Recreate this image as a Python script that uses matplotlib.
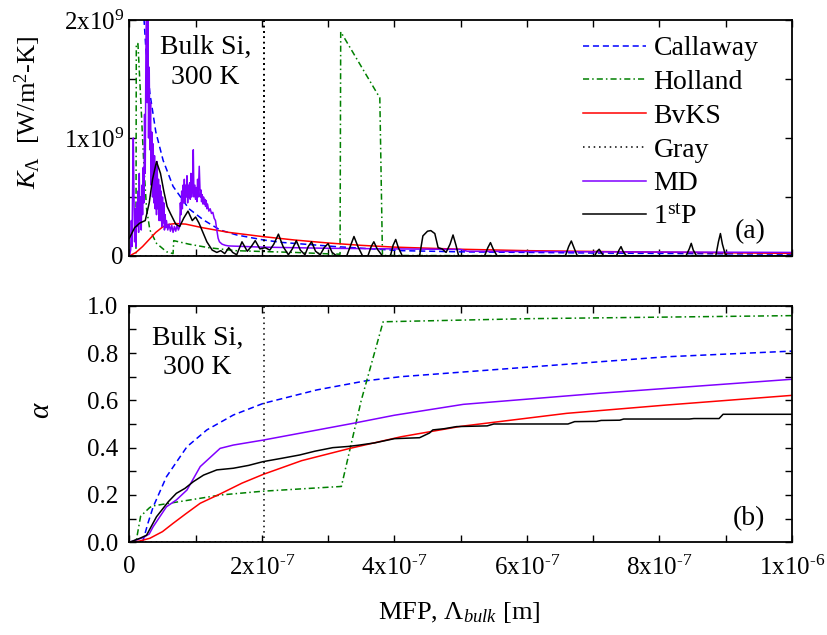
import matplotlib
matplotlib.use("Agg")
import matplotlib.pyplot as plt
import numpy as np

plt.rcParams['font.family'] = ['Liberation Serif', 'DejaVu Serif']
plt.rcParams['mathtext.fontset'] = 'custom'
plt.rcParams['mathtext.rm'] = 'Liberation Serif'
plt.rcParams['mathtext.it'] = 'Liberation Serif:italic'
plt.rcParams['mathtext.bf'] = 'Liberation Serif:bold'

# ---------------- data (MFP in units of 1e-7 m, K_Lambda in units of 1e9) ----------------
MFP_UNIT = 1e-7
K_UNIT = 1e9

callaway_mfp = [0.17, 0.20, 0.25, 0.31, 0.40, 0.51, 0.66, 0.90, 1.12, 1.37, 1.62, 2.02, 2.30, 3.10, 4.10, 5.00, 7.00, 10.0]
callaway_K = [3.0, 2.2, 1.75, 1.38, 1.05, 0.81, 0.59, 0.40, 0.305, 0.22, 0.178, 0.136, 0.115, 0.08, 0.045, 0.035, 0.025, 0.015]

holland_mfp = [0, 0.10, 0.105, 0.13, 0.17, 0.22, 0.26, 0.31, 0.41, 0.56, 0.66, 0.67, 0.9, 1.2, 1.6, 2.0, 2.5, 3.0, 3.18, 3.19, 3.78, 3.82, 5.0, 10.0]
holland_K = [0, 0, 1.8, 1.8, 1.35, 0.76, 0.4, 0.22, 0.107, 0.036, 0.02, 0.13, 0.1, 0.07, 0.045, 0.038, 0.03, 0.018, 0.015, 1.9, 1.34, 0.004, 0.003, 0.002]

bvks_mfp = [0, 0.1, 0.2, 0.3, 0.4, 0.5, 0.6, 0.7, 0.85, 1.1, 1.5, 2.0, 2.5, 3.0, 3.5, 4.0, 5.0, 6.0, 7.5, 10.0]
bvks_K = [0, 0.03, 0.08, 0.14, 0.2, 0.245, 0.268, 0.275, 0.27, 0.24, 0.2, 0.165, 0.135, 0.11, 0.09, 0.075, 0.057, 0.045, 0.035, 0.022]

gray_mfp = [0, 2.03, 2.03, 2.03, 10.0]
gray_K = [0, 0, 5.0, 0, 0]

md_points = [(0.00,0.0),(0.02,0.05),(0.03,0.3),(0.04,0.08),(0.05,0.6),(0.06,1.0),(0.07,0.5),(0.08,0.12),
             (0.09,0.4),(0.10,0.08),(0.11,0.45),(0.12,0.25),(0.13,0.55),(0.14,0.2),(0.15,0.7),(0.16,0.3),
             (0.17,0.5),(0.18,0.22),(0.19,0.6),(0.20,0.35),(0.21,0.75),(0.22,0.45),(0.23,1.2),(0.24,0.7),
             (0.25,1.7),(0.26,2.3),(0.27,1.3),(0.28,2.3),(0.29,1.0),(0.30,1.6),(0.31,0.9),(0.32,1.3),
             (0.33,0.6),(0.34,1.05),(0.35,0.5),(0.36,0.95),(0.37,0.45),(0.38,0.85),(0.39,0.4),(0.40,0.75),
             (0.41,0.35),(0.42,0.8),(0.43,0.4),(0.44,0.65),(0.45,0.3),(0.46,0.6),(0.47,0.3),(0.48,0.55),
             (0.49,0.25),(0.50,0.5),(0.51,0.28),(0.52,0.45),(0.53,0.22),(0.54,0.35),(0.55,0.24),(0.56,0.3),
             (0.58,0.22),(0.60,0.27),(0.62,0.21),(0.64,0.26),(0.66,0.2),(0.68,0.25),(0.70,0.21),(0.72,0.26),
             (0.74,0.22),(0.76,0.25),(0.77,0.45),(0.78,0.35),(0.79,0.55),(0.80,0.4),(0.81,0.6),(0.82,0.45),
             (0.83,0.65),(0.84,0.45),(0.85,0.6),(0.86,0.5),(0.87,0.68),(0.88,0.45),(0.89,0.6),(0.90,0.5),
             (0.91,0.62),(0.92,0.48),(0.93,0.7),(0.94,0.5),(0.955,0.6),(0.965,0.9),(0.975,0.5),(0.99,0.6),
             (1.00,0.48),(1.01,0.58),(1.02,0.46),(1.03,0.65),(1.04,0.5),(1.055,0.76),(1.07,0.5),(1.08,0.56),
             (1.09,0.46),(1.10,0.52),(1.11,0.44),(1.12,0.5),(1.13,0.44),(1.14,0.48),(1.15,0.42),(1.16,0.47),
             (1.17,0.4),(1.18,0.44),(1.20,0.38),(1.22,0.4),(1.24,0.36),(1.26,0.37),(1.28,0.32),(1.30,0.3),
             (1.32,0.22),(1.34,0.15),(1.36,0.12),(1.40,0.1),(1.45,0.09),(1.5,0.085),(2.0,0.075),(3.0,0.065),
             (4.0,0.06),(5.0,0.055),(5.1,0.04),(7.0,0.035),(10.0,0.03)]

firstp_points = [(0,0.15),(0.08,0.24),(0.16,0.28),(0.24,0.30),(0.30,0.45),(0.35,0.65),(0.41,0.80),(0.47,0.70),
                 (0.52,0.55),(0.57,0.42),(0.62,0.36),(0.70,0.27),(0.76,0.25),(0.82,0.32),(0.885,0.38),(0.95,0.30),
                 (1.00,0.33),(1.05,0.28),(1.11,0.20),(1.17,0.12),(1.25,0.05),(1.32,0.03),(1.38,0.045),(1.44,0.02),
                 (1.50,0.07),(1.56,0.03),(1.62,0.01),(1.70,0.12),(1.78,0.04),(1.84,0.08),(1.90,0.13),(1.97,0.06),
                 (2.05,0.07),(2.12,0.05),(2.18,0.10),(2.25,0.185),(2.32,0.08),(2.40,0.01),(2.46,0.06),(2.52,0.13),
                 (2.58,0.05),(2.65,0.01),(2.70,0.08),(2.75,0.12),(2.81,0.04),(2.88,0.01),(2.94,0.07),(3.00,0.105),
                 (3.06,0.03),(3.13,0.0),(3.28,0.0),(3.34,0.09),(3.39,0.165),(3.45,0.08),(3.52,0.0),(3.60,0.0),
                 (3.65,0.08),(3.69,0.12),(3.74,0.06),(3.82,0.0),(3.94,0.0),(3.98,0.09),(4.02,0.14),(4.06,0.07),
                 (4.12,0.0),(4.38,0.0),(4.43,0.17),(4.50,0.21),(4.55,0.215),(4.61,0.19),(4.66,0.07),(4.72,0.06),
                 (4.78,0.03),(4.84,0.10),(4.885,0.178),(4.93,0.09),(4.97,0.0),(5.36,0.0),(5.41,0.07),(5.45,0.113),
                 (5.49,0.06),(5.55,0.0),(6.58,0.0),(6.63,0.08),(6.67,0.127),(6.71,0.07),(6.76,0.0),(7.02,0.0),
                 (7.06,0.04),(7.09,0.057),(7.12,0.03),(7.16,0.0),(7.35,0.0),(7.39,0.05),(7.42,0.079),(7.45,0.04),
                 (7.50,0.0),(8.40,0.0),(8.45,0.06),(8.48,0.107),(8.51,0.05),(8.56,0.0),(8.85,0.0),(8.89,0.12),
                 (8.92,0.19),(8.95,0.10),(9.00,0.0),(10.0,0.0)]

# accumulation alpha
callaway_a_mfp = [0.19, 0.21, 0.28, 0.36, 0.56, 0.87, 1.17, 1.57, 2.02, 2.83, 3.58, 4.1, 6.1, 8.1, 10.0]
callaway_a = [0.0, 0.01, 0.08, 0.15, 0.277, 0.404, 0.475, 0.538, 0.587, 0.644, 0.683, 0.70, 0.742, 0.784, 0.808]

holland_a_mfp = [0, 0.1, 0.17, 0.3, 0.34, 1.38, 2.02, 3.2, 3.5, 3.83, 6.0, 10.0]
holland_a = [0, 0.0, 0.11, 0.145, 0.153, 0.2, 0.216, 0.236, 0.6, 0.932, 0.945, 0.958]

bvks_a_mfp = [0, 0.15, 0.31, 0.5, 0.66, 0.85, 1.07, 1.39, 1.7, 2.02, 2.6, 3.33, 4.1, 5.0, 6.6, 8.1, 10.0]
bvks_a = [0, 0.005, 0.017, 0.045, 0.08, 0.12, 0.165, 0.207, 0.25, 0.287, 0.345, 0.397, 0.446, 0.49, 0.545, 0.58, 0.621]

gray_a_mfp = [0, 2.03, 2.03, 10.0]
gray_a = [0, 0, 1, 1]

md_a_mfp = [0, 0.21, 0.3, 0.36, 0.56, 0.71, 0.87, 1.07, 1.37, 1.57, 2.02, 3.38, 4.0, 5.04, 7.1, 10.0]
md_a = [0, 0.02, 0.035, 0.066, 0.15, 0.179, 0.221, 0.32, 0.397, 0.411, 0.432, 0.503, 0.537, 0.583, 0.63, 0.689]

firstp_a_mfp = [0, 0.16, 0.26, 0.41, 0.59, 0.71, 0.84, 0.965, 1.12, 1.32, 1.57, 1.8, 2.02, 2.3, 2.57, 2.8, 3.07,
                3.3, 3.45, 3.7, 4.0, 4.38, 4.53, 4.58, 4.75, 4.94, 5.4, 5.5, 6.62, 6.72, 7.05, 7.12, 7.4, 7.46,
                8.45, 8.52, 8.9, 8.96, 10.0]
firstp_a = [0, 0.017, 0.03, 0.108, 0.172, 0.207, 0.228, 0.256, 0.284, 0.306, 0.313, 0.325, 0.341, 0.355, 0.369,
            0.385, 0.4, 0.405, 0.41, 0.42, 0.438, 0.442, 0.462, 0.475, 0.48, 0.489, 0.492, 0.5, 0.5, 0.51, 0.511,
            0.515, 0.516, 0.521, 0.521, 0.523, 0.523, 0.541, 0.541]

labels = ['Callaway', 'Holland', 'BvKS', 'Gray', 'MD', r'1$^{\rm st}$P']

x_ticks = [0, 2e-7, 4e-7, 6e-7, 8e-7, 1e-6]
x_ticklabels = ['0', r'2x10$^{\text{-}7}$', r'4x10$^{\text{-}7}$', r'6x10$^{\text{-}7}$',
                r'8x10$^{\text{-}7}$', r'1x10$^{\text{-}6}$']
k_ticks = [0, 1e9, 2e9]
k_ticklabels = ['0', r'1x10$^{9}$', r'2x10$^{9}$']
a_ticks = [0.0, 0.2, 0.4, 0.6, 0.8, 1.0]
a_ticklabels = ['0.0', '0.2', '0.4', '0.6', '0.8', '1.0']

# ---------------- styles ----------------
FS_TICK = 18
FS_TEXT = 20
FS_LABEL = 19
lw = 1.1
styles = [
    dict(color='#0000ff', linestyle=(0, (4, 2.5)), lw=lw),
    dict(color='#008000', linestyle=(0, (4, 2, 1, 2)), lw=lw),
    dict(color='#ff0000', linestyle='-', lw=lw),
    dict(color='#000000', linestyle=(0, (1, 2.5)), lw=lw),
    dict(color='#8000ff', linestyle='-', lw=lw),
    dict(color='#000000', linestyle='-', lw=lw),
]

def arr(a, unit=1.0):
    return np.asarray(a, dtype=float) * unit

md_mfp = [p[0] for p in md_points]
md_K = [p[1] for p in md_points]
fp_mfp = [p[0] for p in firstp_points]
fp_K = [p[1] for p in firstp_points]

top_series = [(callaway_mfp, callaway_K), (holland_mfp, holland_K), (bvks_mfp, bvks_K),
              (gray_mfp, gray_K), (md_mfp, md_K), (fp_mfp, fp_K)]
bot_series = [(callaway_a_mfp, callaway_a), (holland_a_mfp, holland_a), (bvks_a_mfp, bvks_a),
              (gray_a_mfp, gray_a), (md_a_mfp, md_a), (firstp_a_mfp, firstp_a)]

fig = plt.figure(figsize=(8.28, 6.35), dpi=100)
ax1 = fig.add_axes([0.1562, 0.5969, 0.8003, 0.3716])
ax2 = fig.add_axes([0.1562, 0.1460, 0.8003, 0.3726])

for (x, y), st, lab in zip(top_series, styles, labels):
    ax1.plot(arr(x, MFP_UNIT), arr(y, K_UNIT), label=lab, **st)
for (x, y), st in zip(bot_series, styles):
    ax2.plot(arr(x, MFP_UNIT), arr(y), **st)

for ax in (ax1, ax2):
    ax.set_xlim(0, 1e-6)
    ax.set_xticks(x_ticks)
    ax.set_xticks(np.arange(1, 10, 2) * 1e-7, minor=True)
    ax.tick_params(which='both', direction='in', top=True, right=True, length=5, width=1.0,
                   labelsize=FS_TICK)
    for s in ax.spines.values():
        s.set_linewidth(1.3)

ax1.set_ylim(0, 2e9)
ax1.set_yticks(k_ticks)
ax1.set_yticklabels(k_ticklabels)
ax1.set_yticks([0.5e9, 1.5e9], minor=True)
ax1.tick_params(axis='x', labelbottom=False)
ax1.tick_params(axis='y', pad=4)

ax2.set_ylim(0, 1.0)
ax2.set_yticks(a_ticks)
ax2.set_yticklabels(a_ticklabels)
ax2.set_yticks([0.1, 0.3, 0.5, 0.7, 0.9], minor=True)
ax2.set_xticklabels(x_ticklabels)
ax2.tick_params(axis='x', pad=10)
ax2.tick_params(axis='y', pad=8)

ax1.set_ylabel(r'$K_\Lambda$  [W/m$^2$-K]', fontsize=FS_LABEL)
ax1.yaxis.set_label_coords(-0.131, 0.61)
ax2.set_ylabel(r'$\alpha$', fontsize=FS_LABEL + 2)
ax2.yaxis.set_label_coords(-0.112, 0.56)
ax2.set_xlabel(r'MFP, $\Lambda_{bulk}$ [m]', fontsize=FS_LABEL)
ax2.xaxis.set_label_coords(0.497, -0.245)

ax1.text(0.115, 0.82, 'Bulk Si,\n300 K', transform=ax1.transAxes, fontsize=FS_TEXT,
         ha='center', va='center', linespacing=1.25)
ax2.text(0.103, 0.80, 'Bulk Si,\n300 K', transform=ax2.transAxes, fontsize=FS_TEXT,
         ha='center', va='center', linespacing=1.25)
ax1.text(0.937, 0.105, '(a)', transform=ax1.transAxes, fontsize=FS_TEXT, ha='center', va='center')
ax2.text(0.935, 0.10, '(b)', transform=ax2.transAxes, fontsize=FS_TEXT, ha='center', va='center')

leg = ax1.legend(loc='upper left', bbox_to_anchor=(0.684, 0.933), frameon=False, fontsize=FS_TEXT,
                 handlelength=2.3, handletextpad=0.25, labelspacing=0.3, borderpad=0, borderaxespad=0)

fig.savefig('out.png', dpi=100)
